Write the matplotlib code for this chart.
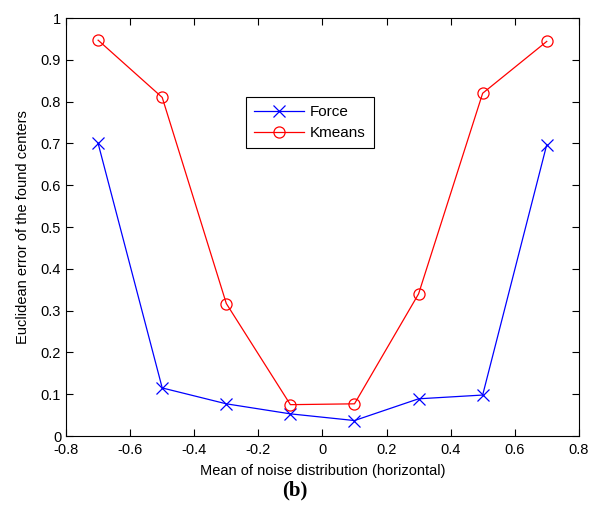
import matplotlib
matplotlib.use("Agg")
import matplotlib.pyplot as plt

# noise mean offsets and the error of the centres found by each method
noise_mean = [-0.7, -0.5, -0.3, -0.1, 0.1, 0.3, 0.5, 0.7]
force_err = [0.700, 0.115, 0.077, 0.053, 0.037, 0.089, 0.098, 0.697]
kmeans_err = [0.947, 0.810, 0.317, 0.075, 0.077, 0.340, 0.820, 0.944]

x_ticks = [-0.8, -0.6, -0.4, -0.2, 0, 0.2, 0.4, 0.6, 0.8]
x_labels = ["-0.8", "-0.6", "-0.4", "-0.2", "0", "0.2", "0.4", "0.6", "0.8"]
y_ticks = [0, 0.1, 0.2, 0.3, 0.4, 0.5, 0.6, 0.7, 0.8, 0.9, 1]
y_labels = ["0", "0.1", "0.2", "0.3", "0.4", "0.5", "0.6", "0.7", "0.8", "0.9", "1"]

plt.rcParams["font.family"] = ["Liberation Sans", "DejaVu Sans"]

fig = plt.figure(figsize=(5.9, 5.09), dpi=100)
ax = fig.add_axes([0.112, 0.1434, 0.869, 0.8212])

ax.plot(noise_mean, force_err, color="blue", lw=0.9, marker="x",
        ms=9, mew=0.9, label="Force")
ax.plot(noise_mean, kmeans_err, color="red", lw=0.9, marker="o",
        ms=8, mew=0.9, mfc="none", label="Kmeans")

ax.set_xlim(-0.8, 0.8)
ax.set_ylim(0, 1)
ax.set_xticks(x_ticks)
ax.set_xticklabels(x_labels)
ax.set_yticks(y_ticks)
ax.set_yticklabels(y_labels)
ax.tick_params(direction="in", top=True, right=True, length=5,
               width=0.8, labelsize=10.5, colors="black")
ax.tick_params(axis="x", pad=5)
for s in ax.spines.values():
    s.set_linewidth(0.8)

ax.set_xlabel("Mean of noise distribution (horizontal)", fontsize=10.5, labelpad=5)
ax.set_ylabel("Euclidean error of the found centers", fontsize=10.5, labelpad=8)

leg = ax.legend(loc="upper left", bbox_to_anchor=(0.351, 0.81),
                borderaxespad=0, fontsize=11, fancybox=False, framealpha=1,
                edgecolor="black", handlelength=3.3, borderpad=0.5,
                labelspacing=0.45, handletextpad=0.4)
leg.get_frame().set_linewidth(0.8)

fig.text(0.5, 0.036, "(b)", ha="center", va="center", fontsize=15,
         fontweight="bold", family="Liberation Serif")

fig.savefig("out.png", dpi=100)
